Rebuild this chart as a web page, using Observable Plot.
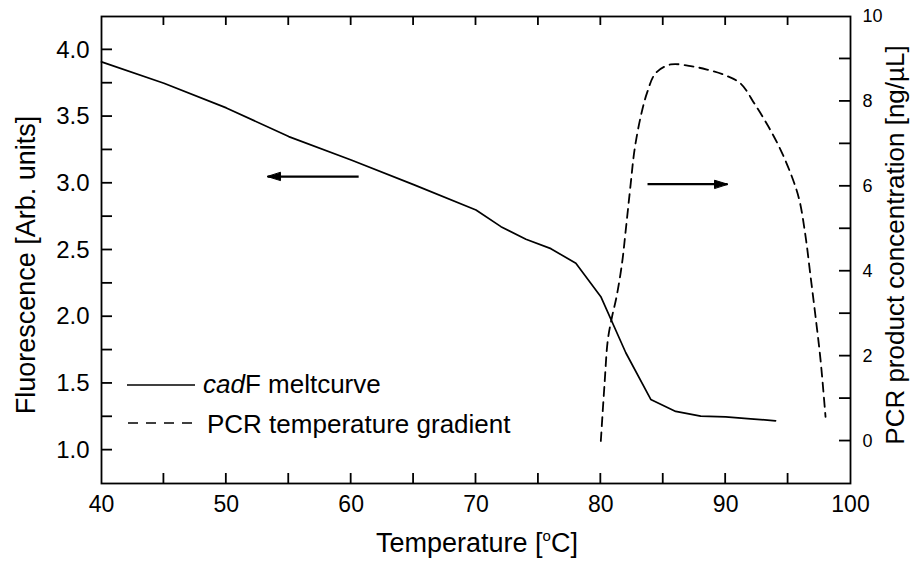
<!DOCTYPE html>
<html>
<head>
<meta charset="utf-8">
<script src="https://cdn.jsdelivr.net/npm/d3@7"></script>
<script src="https://cdn.jsdelivr.net/npm/@observablehq/plot@0.6"></script>
<style>
  body { margin: 0; background: #fff; }
  #wrap { position: relative; width: 911px; height: 565px; }
  #wrap svg { position: absolute; left: 0; top: 0; }
</style>
</head>
<body>
<div id="wrap"></div>
<script>
// ---- data ----
const meltTemp  = [40, 45, 50, 55, 60, 65, 70, 72, 74, 76, 78, 80, 82, 84, 86, 88, 90, 92, 94];
const meltFluor = [3.91, 3.75, 3.565, 3.35, 3.175, 2.99, 2.80, 2.675, 2.58, 2.51, 2.40, 2.15, 1.73, 1.38, 1.29, 1.255, 1.25, 1.235, 1.22];

const gradTemp = [80, 80.3, 80.56, 80.9, 81.26, 81.7, 82.0, 82.4, 82.7, 83.2, 83.7, 84.4, 85.6, 87.2, 88.5, 89.85, 91.2, 92.3, 93.4, 94.4, 95.3, 95.9, 96.4, 96.8, 97.2, 97.6, 98.0];
const gradConc = [0, 1.36, 2.38, 2.93, 3.40, 4.19, 4.98, 6.08, 6.86, 7.65, 8.2, 8.67, 8.87, 8.83, 8.75, 8.63, 8.42, 7.95, 7.42, 6.86, 6.23, 5.68, 4.82, 3.88, 2.93, 1.91, 0.57];

const xDomain = [40, 100];
const xLabelTicks = [40, 50, 60, 70, 80, 90, 100];
const xMarkTicks = [45, 50, 55, 60, 65, 70, 75, 80, 85, 90, 95];

const leftDomain = [0.75, 4.25];
const leftLabelTicks = [1.0, 1.5, 2.0, 2.5, 3.0, 3.5, 4.0];
const leftMarkTicks = [1.0, 1.25, 1.5, 1.75, 2.0, 2.25, 2.5, 2.75, 3.0, 3.25, 3.5, 3.75, 4.0];

const rightDomain = [-1, 10];
const rightLabelTicks = [0, 2, 4, 6, 8, 10];
const rightMarkTicks = [0, 1, 2, 3, 4, 5, 6, 7, 8, 9];

const leftArrow  = [{x1: 60.6, x2: 53.3, y: 3.05}];
const rightArrow = [{x1: 83.74, x2: 90.15, y: 6.05}];

const xTitle = "Temperature [";
const leftTitle = "Fluorescence [Arb. units]";
const rightTitle = "PCR product concentration [ng/\u00B5L]";
const legendLabels = ["cad", "F meltcurve", "PCR temperature gradient"];

// ---- build ----
const melt = meltTemp.map((t, i) => ({t, f: meltFluor[i]}));
const grad = gradTemp.map((t, i) => ({t, c: gradConc[i]}));

const W = 911, H = 565, MT = 16, MR = 61, MB = 82, ML = 101;
const font = "'Liberation Sans', Arial, Helvetica, sans-serif";
const common = {
  width: W, height: H,
  marginTop: MT, marginRight: MR, marginBottom: MB, marginLeft: ML,
  style: {fontFamily: font, fontSize: "23px", background: "transparent", overflow: "visible", color: "#000"}
};
const headShape = {
  draw(ctx, l) { ctx.moveTo(0, -l); ctx.lineTo(-4, 0); ctx.lineTo(4, 0); ctx.closePath(); }
};

const p1 = Plot.plot({
  ...common,
  x: {domain: xDomain, axis: null},
  y: {domain: leftDomain, axis: null},
  marks: [
    Plot.frame({stroke: "#000", fill: "none", strokeWidth: 1.8}),
    Plot.axisX({anchor: "bottom", ticks: xLabelTicks, tickSize: 0, tickPadding: 12, fontSize: 23, label: null}),
    Plot.axisY({anchor: "left", ticks: leftLabelTicks, tickSize: 0, tickPadding: 12, fontSize: 24, tickFormat: d3.format(".1f"), label: null}),
    Plot.line(melt, {x: "t", y: "f", stroke: "#000", strokeWidth: 1.7}),
    Plot.link(leftArrow, {x1: "x1", x2: "x2", y1: "y", y2: "y", stroke: "#000", strokeWidth: 2.2}),
    Plot.vector(leftArrow, {x: "x2", y: "y", length: 13, rotate: -90, anchor: "end", shape: headShape, fill: "#000", stroke: "#000", strokeWidth: 1})
  ]
});

const p2 = Plot.plot({
  ...common,
  x: {domain: xDomain, axis: null},
  y: {domain: rightDomain, axis: null},
  marks: [
    Plot.axisY({anchor: "right", ticks: rightLabelTicks, tickSize: 0, tickPadding: 12, fontSize: 18, label: null}),
    Plot.line(grad, {x: "t", y: "c", stroke: "#000", strokeWidth: 1.8, strokeDasharray: "9,6", curve: "catmull-rom"}),
    Plot.link(rightArrow, {x1: "x1", x2: "x2", y1: "y", y2: "y", stroke: "#000", strokeWidth: 2.2}),
    Plot.vector(rightArrow, {x: "x2", y: "y", length: 13, rotate: 90, anchor: "end", shape: headShape, fill: "#000", stroke: "#000", strokeWidth: 1})
  ]
});

const wrap = document.getElementById("wrap");
wrap.appendChild(p1);
wrap.appendChild(p2);

// ---- inward tick marks, placed through the plots' own scales ----
function scaleFn(plot, name, domain, range) {
  const s = plot.scale(name);
  const fb = d3.scaleLinear(domain, range);
  return v => {
    const p = s && typeof s.apply === "function" ? s.apply(v) : NaN;
    return Number.isFinite(p) ? p : fb(v);
  };
}
const sx  = scaleFn(p1, "x", xDomain, [ML, W - MR]);
const syL = scaleFn(p1, "y", leftDomain, [H - MB, MT]);
const syR = scaleFn(p2, "y", rightDomain, [H - MB, MT]);

const svg = d3.select(p2);
const tg = svg.append("g");
function tick(x1, y1, x2, y2) {
  tg.append("line")
    .attr("x1", x1).attr("y1", y1).attr("x2", x2).attr("y2", y2)
    .attr("stroke", "#000").attr("stroke-width", 1.8);
}
xMarkTicks.forEach(t => {
  const x = sx(t);
  tick(x, H - MB, x, H - MB - 10);
  tick(x, MT, x, MT + 9);
});
leftMarkTicks.forEach(v => { const y = syL(v); tick(ML, y, ML + 11, y); });
rightMarkTicks.forEach(v => { const y = syR(v); tick(W - MR, y, W - MR - 11, y); });

// ---- titles and legend ----
const g = svg.append("g").attr("font-family", font).attr("fill", "#000").attr("text-anchor", "start");

const xt = g.append("text").attr("x", 477).attr("y", 552).attr("text-anchor", "middle").attr("font-size", 27);
xt.append("tspan").text(xTitle);
xt.append("tspan").attr("font-size", 15).attr("dy", -11).text("o");
xt.append("tspan").attr("dy", 11).text("C]");

g.append("text").attr("transform", "translate(35,265) rotate(-90)")
  .attr("text-anchor", "middle").attr("font-size", 27).text(leftTitle);
g.append("text").attr("transform", "translate(904,245) rotate(-90)")
  .attr("text-anchor", "middle").attr("font-size", 26).text(rightTitle);

// legend
g.append("line").attr("x1", 127).attr("x2", 195).attr("y1", 385).attr("y2", 385)
  .attr("stroke", "#000").attr("stroke-width", 1.6);
const l1 = g.append("text").attr("x", 203).attr("y", 393).attr("font-size", 26).attr("text-anchor", "start");
l1.append("tspan").attr("font-style", "italic").text(legendLabels[0]);
l1.append("tspan").text(legendLabels[1]);

g.append("line").attr("x1", 128).attr("x2", 192).attr("y1", 423).attr("y2", 423)
  .attr("stroke", "#000").attr("stroke-width", 1.6).attr("stroke-dasharray", "10,8");
g.append("text").attr("x", 207).attr("y", 433).attr("font-size", 26).attr("text-anchor", "start").text(legendLabels[2]);
</script>
</body>
</html>
